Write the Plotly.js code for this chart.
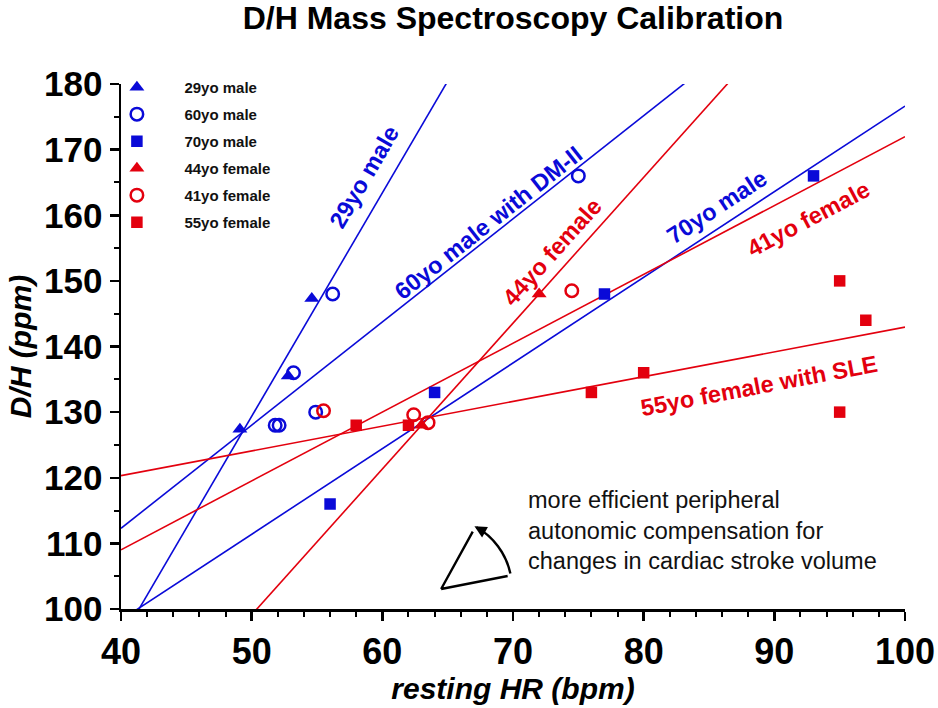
<!DOCTYPE html>
<html>
<head>
<meta charset="utf-8">
<script src="https://cdn.plot.ly/plotly-3.0.1.min.js"></script>
<style>html,body{margin:0;padding:0;background:#fff;}#chart{width:938px;height:708px;}</style>
</head>
<body>
<div id="chart"></div>
<script>
// ---- data ----
const seriesNames = ["29yo male", "60yo male", "70yo male", "44yo female", "41yo female", "55yo female"];
const m29_x = [49.1, 52.8, 54.6];
const m29_y = [127.4, 135.5, 147.3];
const m60_x = [51.8, 52.1, 53.2, 54.9, 56.2, 75.0];
const m60_y = [128, 128, 136, 130, 148, 166];
const m70_x = [56, 64, 77, 93];
const m70_y = [116, 133, 148, 166];
const f44_x = [63, 72];
const f44_y = [128, 148];
const f41_x = [55.5, 62.4, 63.5, 74.5];
const f41_y = [130.2, 129.6, 128.4, 148.5];
const f55_x = [58, 62, 76, 80, 95, 97, 95];
const f55_y = [128, 128, 133, 136, 150, 144, 130];
const lineLabels = ["29yo male", "60yo male with DM-II", "70yo male", "44yo female", "41yo female", "55yo female with SLE"];
const xRange = [40, 100];
const yRange = [100, 180];

const BLUE = '#0a0ad8';
const RED = '#e3000e';
const FONT = '"Liberation Sans", Arial, Helvetica, sans-serif';

function fit(xs, ys) {
  const n = xs.length;
  const mx = xs.reduce((a, b) => a + b, 0) / n;
  const my = ys.reduce((a, b) => a + b, 0) / n;
  let sxy = 0, sxx = 0;
  for (let i = 0; i < n; i++) { sxy += (xs[i] - mx) * (ys[i] - my); sxx += (xs[i] - mx) ** 2; }
  const b = sxy / sxx;
  return { a: my - b * mx, b: b };
}

const groups = [
  { x: m29_x, y: m29_y, color: BLUE, symbol: 'triangle-up', size: 13 },
  { x: m60_x, y: m60_y, color: BLUE, symbol: 'circle-open', size: 12.5 },
  { x: m70_x, y: m70_y, color: BLUE, symbol: 'square', size: 11.5 },
  { x: f44_x, y: f44_y, color: RED, symbol: 'triangle-up', size: 13 },
  { x: f41_x, y: f41_y, color: RED, symbol: 'circle-open', size: 12.5 },
  { x: f55_x, y: f55_y, color: RED, symbol: 'square', size: 11.5 }
];

const traces = [];
// regression lines
groups.forEach((g, i) => {
  const f = fit(g.x, g.y);
  traces.push({
    x: xRange.slice(), y: xRange.map(v => f.a + f.b * v),
    mode: 'lines', type: 'scatter', showlegend: false, hoverinfo: 'skip',
    line: { color: g.color, width: 1.6 }
  });
});
// markers
groups.forEach((g, i) => {
  traces.push({
    x: g.x, y: g.y, name: seriesNames[i], legendgroup: 'g' + i,
    mode: 'markers', type: 'scatter',
    marker: { color: g.color, symbol: g.symbol, size: g.size,
              line: { color: g.color, width: g.symbol === 'circle-open' ? 2.5 : 0 } }
  });
});

// rotated line labels (angle follows each fitted line on screen)
const plotW = 938 - 121 - 33, plotH = 708 - 84 - 99;
const pxPerX = plotW / (xRange[1] - xRange[0]);
const pxPerY = plotH / (yRange[1] - yRange[0]);
const labelPos = [[58.6, 165.9], [68.1, 158.8], [85.6, 161.3], [73.0, 154.4], [92.6, 159.5], [88.8, 134.0]];
const annotations = groups.map((g, i) => {
  const f = fit(g.x, g.y);
  const ang = Math.atan(f.b * pxPerY / pxPerX) * 180 / Math.PI;
  return {
    x: labelPos[i][0], y: labelPos[i][1], xref: 'x', yref: 'y',
    text: '<b>' + lineLabels[i] + '</b>', showarrow: false, textangle: -ang,
    font: { family: FONT, size: 23.5, color: g.color }
  };
});
annotations.push({
  x: 71.0, y: 111.9, xref: 'x', yref: 'y', xanchor: 'left', yanchor: 'middle', align: 'left',
  text: 'more efficient peripheral<br>autonomic compensation for<br>changes in cardiac stroke volume',
  showarrow: false, font: { family: FONT, size: 23.5, color: '#111' }
});
// arrow head on the arc
annotations.push({
  x: 67.05, y: 112.6, xref: 'x', yref: 'y', ax: 9, ay: 5, text: '',
  showarrow: true, arrowhead: 2, arrowsize: 1.1, arrowwidth: 2.2, arrowcolor: '#000', standoff: 0
});

const shapes = [
  { type: 'path', xref: 'x', yref: 'y', path: 'M 64.50 103.05 L 69.59 105.03 M 64.50 103.05 L 66.92 111.78',
    line: { color: '#000', width: 2.4 } },
  { type: 'path', xref: 'x', yref: 'y', path: 'M 69.80 105.41 C 69.46 108.47 68.47 111.06 67.20 112.45',
    line: { color: '#000', width: 2.4 } }
];

const layout = {
  width: 938, height: 708,
  margin: { l: 121, r: 33, t: 84, b: 99, pad: 0 },
  paper_bgcolor: '#fff', plot_bgcolor: '#fff',
  font: { family: FONT, color: '#000' },
  title: { text: '<b>D/H Mass Spectroscopy Calibration</b>', x: 0.5, xref: 'paper', xanchor: 'center',
           y: 0.975, yref: 'container', yanchor: 'middle', font: { family: FONT, size: 32, color: '#000' } },
  xaxis: {
    range: xRange, dtick: 10, tick0: 40, showgrid: false, zeroline: false,
    showline: true, linecolor: '#000', linewidth: 2.5, ticks: 'outside', ticklen: 9, tickwidth: 2.5, tickcolor: '#000',
    tickfont: { family: FONT, size: 36, weight: 'bold' },
    minor: { dtick: 2, ticks: 'outside', ticklen: 5, tickwidth: 2, tickcolor: '#000', showgrid: false },
    title: { text: '<b><i>resting HR (bpm)</i></b>', standoff: 5, font: { family: FONT, size: 30 } },
    automargin: false
  },
  yaxis: {
    range: yRange, dtick: 10, tick0: 100, showgrid: false, zeroline: false,
    showline: true, linecolor: '#000', linewidth: 2.5, ticks: 'outside', ticklen: 9, tickwidth: 2.5, tickcolor: '#000',
    tickfont: { family: FONT, size: 35, weight: 'bold' },
    minor: { dtick: 5, ticks: 'outside', ticklen: 5, tickwidth: 2, tickcolor: '#000', showgrid: false },
    title: { text: '<b><i>D/H (ppm)</i></b>', standoff: 4, font: { family: FONT, size: 30 } },
    automargin: false
  },
  showlegend: true,
  legend: { x: -0.0403, y: 1.025, xanchor: 'left', yanchor: 'top', bgcolor: 'rgba(0,0,0,0)',
            font: { family: FONT, size: 15, weight: 'bold', color: '#111' }, tracegroupgap: 4.5, itemwidth: 85 },
  annotations: annotations,
  shapes: shapes
};

Plotly.newPlot('chart', traces, layout, { displayModeBar: false, staticPlot: true });
</script>
</body>
</html>
